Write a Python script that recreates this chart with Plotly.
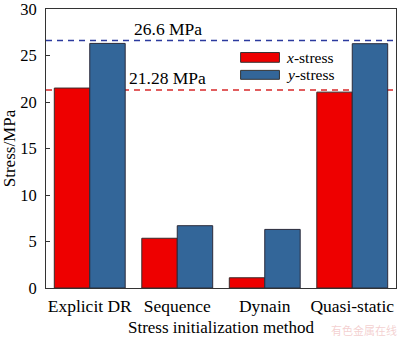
import plotly.graph_objects as go

categories = ["Explicit DR", "Sequence", "Dynain", "Quasi-static"]
x_stress = [21.5, 5.35, 1.1, 21.06]
y_stress = [26.3, 6.7, 6.3, 26.27]
ref_levels = [26.6, 21.28]
ref_labels = ["26.6 MPa", "21.28 MPa"]
y_ticks = [0, 5, 10, 15, 20, 25, 30]

RED = "#ee0000"
BLUE = "#336699"
FONT = "Liberation Serif"
FS = 17.5

fig = go.Figure()
fig.add_trace(go.Bar(x=categories, y=x_stress, name="x-stress",
                     marker=dict(color=RED, line=dict(color="#3a2a2a", width=1))))
fig.add_trace(go.Bar(x=categories, y=y_stress, name="y-stress",
                     marker=dict(color=BLUE, line=dict(color="#2a2a3a", width=1))))

# reference dashed lines
line_colors = ["#2b3a9e", "#d8282a"]
for lvl, col in zip(ref_levels, line_colors):
    fig.add_shape(type="line", xref="paper", yref="y", x0=0, x1=1, y0=lvl, y1=lvl,
                  line=dict(color=col, width=1.5, dash="6px,5px"), layer="below")

# reference labels
fig.add_annotation(text=ref_labels[0], xref="paper", yref="y", x=0.245, y=ref_levels[0],
                   xanchor="left", yanchor="bottom", showarrow=False, yshift=0,
                   font=dict(family=FONT, size=FS, color="black"))
fig.add_annotation(text=ref_labels[1], xref="paper", yref="y", x=0.230, y=ref_levels[1],
                   xanchor="left", yanchor="bottom", showarrow=False, yshift=0,
                   font=dict(family=FONT, size=FS, color="black"))

# manual legend
legend_items = [("<i>x</i>-stress", RED, 0.844, 0.809), ("<i>y</i>-stress", BLUE, 0.780, 0.748)]
for txt, col, ytop, ybot in legend_items:
    fig.add_shape(type="rect", xref="paper", yref="paper", x0=0.556, x1=0.667, y0=ybot, y1=ytop,
                  fillcolor=col, line=dict(color="#333333", width=1))
    fig.add_annotation(text=txt, xref="paper", yref="paper", x=0.684, y=(ytop + ybot) / 2,
                       xanchor="left", yanchor="middle", showarrow=False, borderpad=0,
                       font=dict(family=FONT, size=15.5, color="black"))

# watermark
fig.add_annotation(text="有色金属在线", xref="paper", yref="paper", x=1.005, y=-0.15,
                   xanchor="right", yanchor="middle", showarrow=False, borderpad=0,
                   font=dict(family="Noto Sans CJK SC", size=11, color="rgba(230,150,150,0.45)"))

fig.update_layout(
    width=400, height=337,
    margin=dict(l=46, r=4, t=9, b=49),
    barmode="group", bargap=0.19, bargroupgap=0,
    plot_bgcolor="white", paper_bgcolor="white",
    showlegend=False,
    font=dict(family=FONT, size=FS, color="black"),
)
fig.update_xaxes(range=[-0.5, 3.5], showline=True, linecolor="#333333", linewidth=1,
                 mirror=True, ticks="", showgrid=False, ticklabelstandoff=2, automargin=False,
                 title=dict(text="Stress initialization method", standoff=8,
                            font=dict(family=FONT, size=17)),
                 tickfont=dict(family=FONT, size=FS))
fig.update_yaxes(range=[0, 30], tickvals=y_ticks, showline=True, linecolor="#333333", linewidth=1,
                 mirror=True, ticks="inside", ticklen=4, tickcolor="#333333", showgrid=False,
                 zeroline=False, ticklabeloverflow="allow", ticklabelstandoff=5, automargin=False,
                 title=dict(text="Stress/MPa", standoff=4, font=dict(family=FONT, size=17)),
                 tickfont=dict(family=FONT, size=16.5))

fig.write_html("out.html")
